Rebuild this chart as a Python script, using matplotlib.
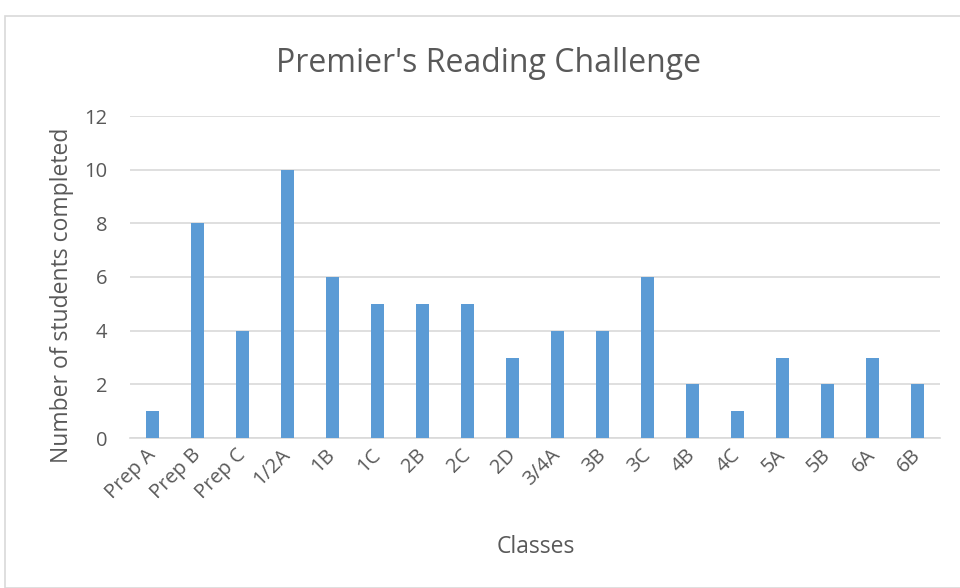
import numpy as np
import matplotlib.pyplot as plt
from matplotlib.patches import Rectangle

### Data
classes = ['Prep A', 'Prep B', 'Prep C', '1/2A', '1B', '1C', '2B', '2C', '2D',
           '3/4A', '3B', '3C', '4B', '4C', '5A', '5B', '6A', '6B']
completed = [1, 8, 4, 10, 6, 5, 5, 5, 3, 4, 4, 6, 2, 1, 3, 2, 3, 2]

### Style
plt.rcParams['font.family'] = ['Open Sans', 'DejaVu Sans']
txtcol = '#595959'
barcol = '#5B9BD5'
gridcol = '#D9D9D9'

fig = plt.figure(figsize=(9.6, 5.88), dpi=100)

### Chart border
fig.patches.append(Rectangle((5/960, 0), 1, 1 - 16/588, transform=fig.transFigure,
                             fill=False, edgecolor='#D9D9D9', linewidth=1.2))

ax = fig.add_axes([130/960, 1 - 438/588, 810/960, 322/588])
x = np.arange(len(classes))
ax.bar(x, completed, width=0.31, color=barcol, zorder=3)

ax.set_xlim(-0.5, len(classes) - 0.5)
ax.set_ylim(0, 12)
ax.set_yticks(np.arange(0, 13, 2))
ax.yaxis.grid(True, color=gridcol, linewidth=1.2, zorder=0)
for s in ['top', 'right', 'left']:
    ax.spines[s].set_visible(False)
ax.spines['bottom'].set_color(gridcol)
ax.spines['bottom'].set_linewidth(1.2)
ax.tick_params(length=0, colors=txtcol, labelsize=14.5)
ax.tick_params(axis='y', pad=16.5)
ax.set_xticks(x)
ax.set_xticklabels(classes, rotation=45, ha='right', va='center', rotation_mode='anchor')
ax.tick_params(axis='x', pad=10)

ax.set_ylabel('Number of students completed', fontsize=16.5, color=txtcol, va='center')
ax.yaxis.set_label_coords(-0.084, 0.444)
ax.set_xlabel('Classes', fontsize=16.5, color=txtcol, va='center')
ax.xaxis.set_label_coords(0.501, -0.3385)
fig.text(489/960, 1 - 63/588, "Premier's Reading Challenge", ha='center', va='center',
         fontsize=23, color=txtcol)

plt.savefig('out.png', dpi=100)
